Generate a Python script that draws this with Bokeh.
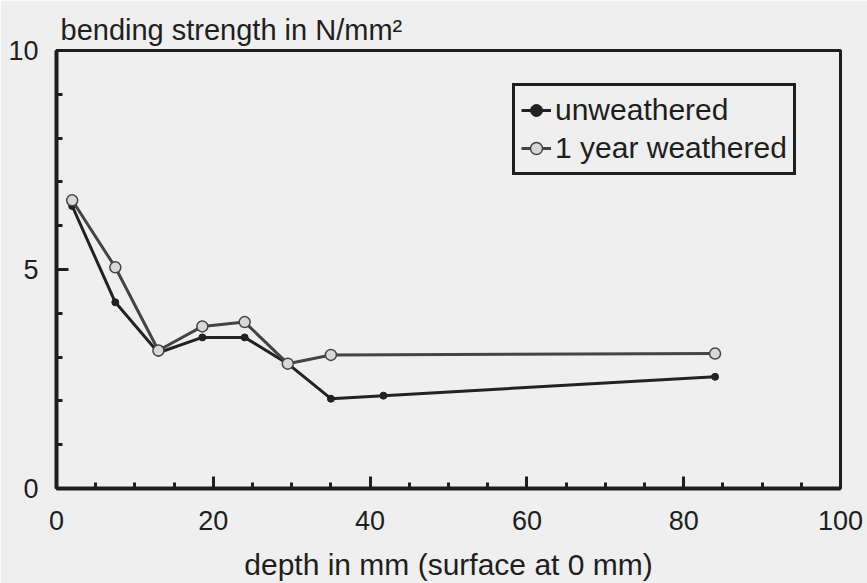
from bokeh.plotting import figure
from bokeh.models import SingleIntervalTicker, Legend, LegendItem
from bokeh.embed import file_html
from bokeh.resources import INLINE

# data
depth_unweathered = [2, 7.5, 13, 18.6, 24, 29.5, 35, 41.7, 84]
strength_unweathered = [6.45, 4.25, 3.1, 3.45, 3.45, 2.85, 2.05, 2.12, 2.55]
depth_weathered = [2, 7.5, 13, 18.6, 24, 29.5, 35, 84]
strength_weathered = [6.58, 5.05, 3.15, 3.7, 3.8, 2.85, 3.05, 3.08]

FONT = "Liberation Sans"
BG = "#efefef"
INK = "#1e1e1e"

p = figure(width=867, height=583, x_range=(0, 100), y_range=(0, 10),
           output_backend="svg", toolbar_location=None,
           min_border_left=56, min_border_right=27, min_border_top=50, min_border_bottom=95)
p.background_fill_color = BG
p.border_fill_color = BG
p.outline_line_color = INK
p.outline_line_width = 3
p.outline_line_alpha = 1
p.xgrid.visible = False
p.ygrid.visible = False

p.title.text = "bending strength in N/mm²"
p.title.text_font = FONT
p.title.text_font_size = "29px"
p.title.text_font_style = "normal"
p.title.text_color = INK
p.title.align = "left"
p.title.offset = 4

p.xaxis.ticker = SingleIntervalTicker(interval=20, num_minor_ticks=4)
p.yaxis.ticker = SingleIntervalTicker(interval=5, num_minor_ticks=5)
for ax in (p.xaxis, p.yaxis):
    ax.axis_line_width = 4
    ax.axis_line_color = INK
    ax.major_tick_in = 12
    ax.major_tick_out = 0
    ax.minor_tick_in = 6
    ax.minor_tick_out = 0
    ax.major_tick_line_width = 3
    ax.minor_tick_line_width = 3
    ax.major_tick_line_color = INK
    ax.minor_tick_line_color = INK
    ax.major_label_text_font = FONT
    ax.major_label_text_font_size = "27px"
    ax.major_label_text_color = INK
    ax.axis_label_text_font = FONT
    ax.axis_label_text_font_size = "30px"
    ax.axis_label_text_font_style = "normal"
    ax.axis_label_text_color = INK

p.xaxis.major_label_standoff = 22
p.yaxis.major_label_standoff = 18
p.xaxis.axis_label = "depth in mm (surface at 0 mm)"
p.xaxis.axis_label_standoff = 15

l1 = p.line(depth_unweathered, strength_unweathered, line_color="#222222", line_width=3)
s1 = p.scatter(depth_unweathered, strength_unweathered, size=7, marker="circle",
               fill_color="#222222", line_color="#222222")
l2 = p.line(depth_weathered, strength_weathered, line_color="#444444", line_width=3)
s2 = p.scatter(depth_weathered, strength_weathered, size=11, marker="circle",
               fill_color="#d8d8d8", line_color="#444444", line_width=1.5)

legend = Legend(items=[LegendItem(label="unweathered", renderers=[l1, s1]),
                       LegendItem(label="1 year weathered", renderers=[l2, s2])],
                location=(456, 313))
legend.border_line_color = INK
legend.border_line_width = 3
legend.border_line_alpha = 1
legend.background_fill_color = BG
legend.background_fill_alpha = 1
legend.label_text_font = FONT
legend.label_text_font_size = "30px"
legend.label_text_color = INK
legend.glyph_width = 30
legend.glyph_height = 36
legend.label_height = 36
legend.label_standoff = 4
legend.padding = 6
legend.spacing = 2
legend.margin = 0
p.add_layout(legend)

open("out.html", "w").write(file_html(p, INLINE))
